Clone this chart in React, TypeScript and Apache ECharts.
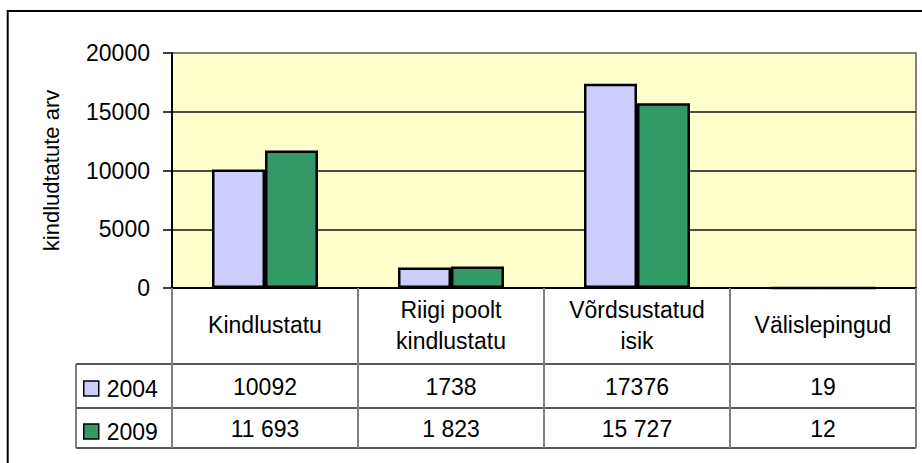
import React, { useEffect, useRef } from "react";
import * as echarts from "echarts";

const categories = ["Kindlustatu", "Riigi poolt\nkindlustatu", "Võrdsustatud\nisik", "Välislepingud"];
const seriesNames = ["2004", "2009"];
const values2004 = [10092, 1738, 17376, 19];
const values2009 = [11693, 1823, 15727, 12];
const tableLabels2004 = ["10092", "1738", "17376", "19"];
const tableLabels2009 = ["11 693", "1 823", "15 727", "12"];
const yTicks = { min: 0, max: 20000, interval: 5000 };
const yAxisName = "kindludtatute arv";

const FONT = "'Liberation Sans', Arial, sans-serif";
const FS = 23;

export default function App() {
  const ref = useRef<HTMLDivElement>(null);
  useEffect(() => {
    document.body.style.margin = "0";
    if (!ref.current) return;
    const chart = echarts.init(ref.current, null, { renderer: "svg" });

    const W = 922;
    const H = 463;
    const gridLeft = 172;
    const gridRight = 6;
    const gridTop = 53;
    const gridBottom = 175;
    const axisY = H - gridBottom; // 288
    const plotW = W - gridLeft - gridRight;
    const colW = plotW / categories.length;
    const tableLeft = 76;
    const headerBottom = 364;
    const row1Bottom = 408;
    const row2Bottom = 448;

    const graphics: any[] = [];
    graphics.push({
      type: "rect",
      shape: { x: 7.7, y: 11, width: 2000, height: 2000 },
      style: { fill: "none", stroke: "#000", lineWidth: 2 },
      silent: true,
    });
    [headerBottom, row1Bottom, row2Bottom].forEach((y) => {
      graphics.push({
        type: "line",
        shape: { x1: tableLeft, y1: y, x2: W - gridRight, y2: y },
        style: { stroke: "#222", lineWidth: 1.5 },
        silent: true,
      });
    });
    graphics.push({
      type: "line",
      shape: { x1: tableLeft, y1: headerBottom, x2: tableLeft, y2: row2Bottom },
      style: { stroke: "#555", lineWidth: 1.5 },
      silent: true,
    });
    const rows = [tableLabels2004, tableLabels2009];
    const rowCenters = [(headerBottom + row1Bottom) / 2 + 1, (row1Bottom + row2Bottom) / 2 + 1];
    rows.forEach((labels, r) => {
      labels.forEach((t, i) => {
        graphics.push({
          type: "text",
          x: gridLeft + colW * (i + 0.5),
          y: rowCenters[r],
          style: {
            text: t,
            fill: "#000",
            font: `${FS}px ${FONT}`,
            align: "center",
            verticalAlign: "middle",
          },
          silent: true,
        });
      });
    });

    chart.setOption({
      animation: false,
      backgroundColor: "#fff",
      grid: {
        left: gridLeft,
        right: gridRight,
        top: gridTop,
        bottom: gridBottom,
        show: true,
        backgroundColor: "#FFFFCC",
        borderColor: "#808080",
        borderWidth: 2,
      },
      legend: {
        orient: "vertical",
        left: 83,
        top: 377,
        icon: "rect",
        itemWidth: 15,
        itemHeight: 15,
        itemGap: 20,
        padding: 0,
        data: seriesNames,
        itemStyle: { borderColor: "#000", borderWidth: 1.5 },
        textStyle: { fontSize: FS, fontFamily: FONT, color: "#000", lineHeight: 23, padding: [0, 0, 0, 3] },
      },
      xAxis: {
        type: "category",
        data: categories,
        boundaryGap: true,
        axisLine: { show: true, lineStyle: { color: "#000", width: 2 } },
        axisTick: {
          show: true,
          length: row2Bottom - axisY,
          lineStyle: { color: "#808080", width: 2 },
        },
        axisLabel: {
          interval: 0,
          fontSize: FS,
          fontFamily: FONT,
          color: "#000",
          lineHeight: 31,
          verticalAlign: "middle",
          margin: 37,
        },
        z: 5,
      },
      yAxis: {
        type: "value",
        min: yTicks.min,
        max: yTicks.max,
        interval: yTicks.interval,
        name: yAxisName,
        nameLocation: "middle",
        nameGap: 110,
        nameRotate: 90,
        nameTextStyle: { fontSize: 22, fontFamily: FONT, color: "#000" },
        axisLine: { show: true, lineStyle: { color: "#000", width: 2 } },
        axisTick: { show: true, length: 9, lineStyle: { color: "#000", width: 1.5 } },
        axisLabel: {
          fontSize: FS,
          fontFamily: FONT,
          color: "#000",
          margin: 22,
          formatter: (v: number) => String(v),
        },
        splitLine: {
          show: true,
          showMaxLine: false,
          showMinLine: false,
          lineStyle: { color: "#111", width: 1.5 },
        },
      },
      series: [
        {
          name: seriesNames[0],
          type: "bar",
          data: values2004,
          barWidth: 53,
          barGap: "0%",
          itemStyle: { color: "#CCCCFF", borderColor: "#000", borderWidth: 2.5 },
        },
        {
          name: seriesNames[1],
          type: "bar",
          data: values2009,
          barWidth: 53,
          barGap: "0%",
          itemStyle: { color: "#339966", borderColor: "#000", borderWidth: 2.5 },
        },
      ],
      graphic: graphics,
    });
    return () => chart.dispose();
  }, []);
  return <div ref={ref} style={{ width: 922, height: 463 }} />;
}
